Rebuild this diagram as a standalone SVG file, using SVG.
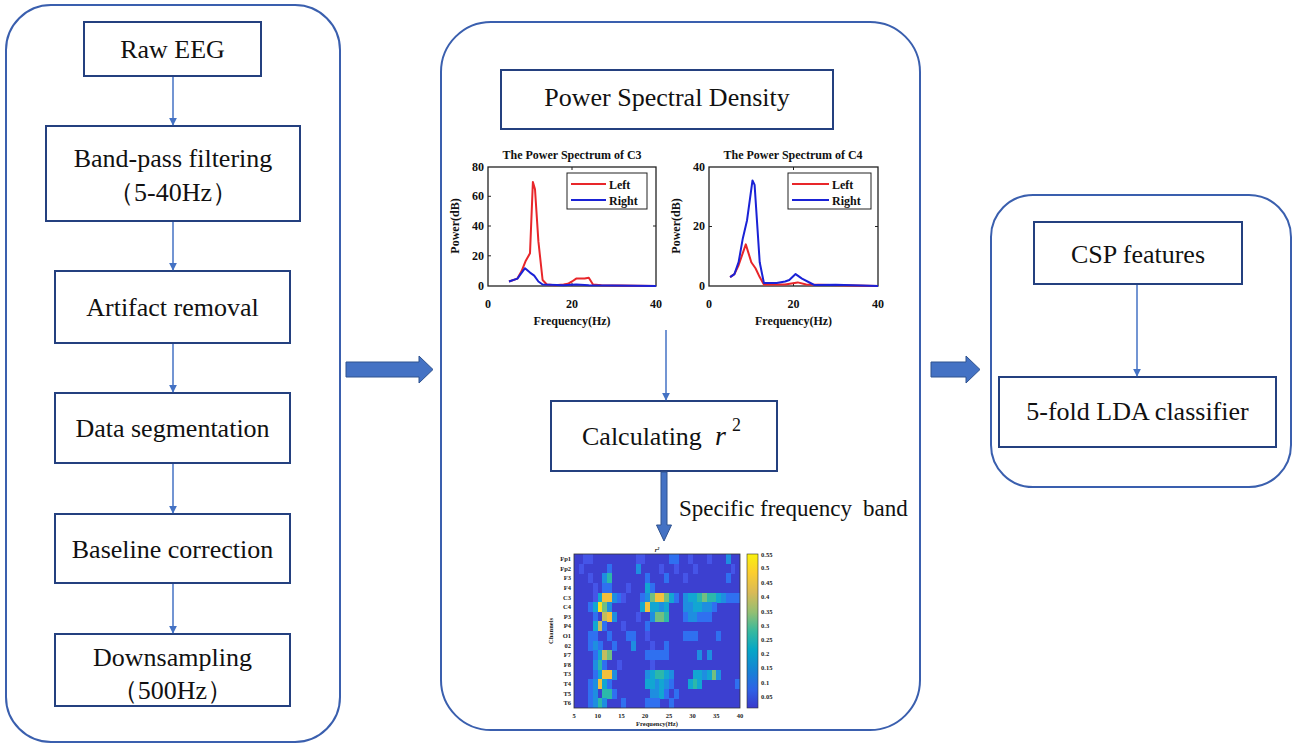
<svg xmlns="http://www.w3.org/2000/svg" width="1300" height="752" viewBox="0 0 1300 752">
<style>
.panel{fill:#fff;stroke:#3a5fae;stroke-width:2}
.box{fill:#fff;stroke:#24407f;stroke-width:2}
.t{font-family:"Liberation Serif","DejaVu Serif",serif;font-size:26px;fill:#111}
.c{text-anchor:middle}
.pt{font-family:"Liberation Serif","DejaVu Serif",serif;font-weight:bold;font-size:12px;fill:#111}
.ht{font-family:"Liberation Serif","DejaVu Serif",serif;font-weight:bold;font-size:6.5px;fill:#222}
.ax{fill:#fff;stroke:#222;stroke-width:1.3}
.red{fill:none;stroke:#e8262a;stroke-width:2;stroke-linejoin:round}
.blue{fill:none;stroke:#1a22d6;stroke-width:2;stroke-linejoin:round}
.con{stroke:#4472c4;stroke-width:1.5;fill:none}
.big{fill:#4472c4;stroke:#2f528f;stroke-width:1}
.h1{fill:#4555e8}.h2{fill:#2f70f0}.h3{fill:#1e8ee0}.h4{fill:#12a6d2}.h5{fill:#2cb8aa}.h6{fill:#72bf80}.h7{fill:#c2bd5e}.h8{fill:#f2c03c}.h9{fill:#f9e020}
</style>
<defs>
<marker id="ah" viewBox="0 0 10 10" refX="9" refY="5" markerWidth="8" markerHeight="8" markerUnits="userSpaceOnUse" orient="auto">
<path d="M0,0 L10,5 L0,10 z" fill="#4472c4"/>
</marker>
<linearGradient id="cb" x1="0" y1="0" x2="0" y2="1">
<stop offset="0" stop-color="#f9f10e"/>
<stop offset="0.12" stop-color="#fcce2e"/>
<stop offset="0.25" stop-color="#d9ba56"/>
<stop offset="0.38" stop-color="#92bf73"/>
<stop offset="0.5" stop-color="#38b99e"/>
<stop offset="0.62" stop-color="#06a7c6"/>
<stop offset="0.75" stop-color="#1485d4"/>
<stop offset="0.88" stop-color="#2f62e6"/>
<stop offset="1" stop-color="#3b3acb"/>
</linearGradient>
</defs>

<g id="panel-left"><rect class="panel" x="6" y="5" width="334" height="737" rx="45"/></g>
<g id="panel-middle"><rect class="panel" x="441" y="22" width="479" height="708" rx="50"/></g>
<g id="panel-right"><rect class="panel" x="991" y="195" width="300" height="292" rx="42"/></g>

<g id="raw-eeg"><rect class="box" x="84" y="22" width="177" height="54"/><text class="t c" x="172.5" y="58">Raw EEG</text></g>
<g id="band-pass"><rect class="box" x="46" y="126" width="254" height="95"/><text class="t c" x="173" y="167">Band-pass filtering</text><text class="t c" x="173" y="201">（5-40Hz）</text></g>
<g id="artifact"><rect class="box" x="55" y="271" width="235" height="72"/><text class="t c" x="172.5" y="316">Artifact removal</text></g>
<g id="segmentation"><rect class="box" x="55" y="393" width="235" height="70"/><text class="t c" x="172.5" y="437">Data segmentation</text></g>
<g id="baseline"><rect class="box" x="55" y="514" width="235" height="69"/><text class="t c" x="172.5" y="558">Baseline correction</text></g>
<g id="downsampling"><rect class="box" x="55" y="634" width="235" height="72"/><text class="t c" x="172.5" y="666">Downsampling</text><text class="t c" x="172.5" y="699">（500Hz）</text></g>

<g id="psd"><rect class="box" x="501" y="70" width="332" height="59"/><text class="t c" x="667" y="106">Power Spectral Density</text></g>

<g id="plot-c3">
<text class="pt c" x="572" y="159">The Power Spectrum of C3</text>
<rect class="ax" x="488" y="167" width="168" height="119"/>
<path d="M488,196.3h3M488,226h3M488,255.8h3M572,286v-3M656,226h-3M572,167v3" stroke="#222" stroke-width="1"/>
<g class="pt" text-anchor="end"><text x="484" y="171">80</text><text x="484" y="200">60</text><text x="484" y="230">40</text><text x="484" y="260">20</text><text x="484" y="290">0</text></g>
<g class="pt c"><text x="488" y="308">0</text><text x="572" y="308">20</text><text x="656" y="308">40</text><text x="572" y="325">Frequency(Hz)</text></g>
<text class="pt c" transform="translate(459,226) rotate(-90)">Power(dB)</text>
<polyline class="red" points="509,281.5 517.4,278.6 521.6,271.1 525.8,260.7 530,253.3 532.9,181.9 535,189.3 538.4,241.4 542.6,280 546.8,284.5 555.2,285.3 563.6,284.5 567.8,283.8 572,281.5 576.2,278.6 584.6,278.6 588.8,277.8 593,284.5 601.4,285.3 656,286"/>
<polyline class="blue" points="509,281.5 517.4,278.6 525,268.2 530,272.6 534.2,275.6 538.4,281.5 542.6,284.5 563.6,285.3 576.2,284.5 588.8,285.3 656,286"/>
<rect x="567" y="173" width="80" height="36" fill="#fff" stroke="#222" stroke-width="1"/>
<line x1="571" y1="184" x2="606" y2="184" stroke="#e8262a" stroke-width="2"/>
<line x1="571" y1="200" x2="606" y2="200" stroke="#1a22d6" stroke-width="2"/>
<text class="pt" x="609" y="189">Left</text><text class="pt" x="609" y="205">Right</text>
</g>

<g id="plot-c4">
<text class="pt c" x="793" y="159">The Power Spectrum of C4</text>
<rect class="ax" x="709" y="167" width="169" height="119"/>
<path d="M709,226.5h3M793.5,286v-3M878,226.5h-3M793.5,167v3" stroke="#222" stroke-width="1"/>
<g class="pt" text-anchor="end"><text x="705" y="171">40</text><text x="705" y="230">20</text><text x="705" y="290">0</text></g>
<g class="pt c"><text x="709" y="308">0</text><text x="793.5" y="308">20</text><text x="878" y="308">40</text><text x="793.5" y="325">Frequency(Hz)</text></g>
<text class="pt c" transform="translate(680,226) rotate(-90)">Power(dB)</text>
<polyline class="red" points="730.1,277.1 734.4,274.1 738.6,265.2 745.8,244.4 751.3,262.2 755.5,268.2 759.7,277.1 763.9,284.5 785.1,284.5 797.7,282.4 806.2,284.5 878,286"/>
<polyline class="blue" points="730.1,277.1 734.4,274.1 738.6,262.2 742.8,238.4 747,220.5 752.5,180.4 754.6,184.9 759.7,262.2 763.9,283 776.6,283 785.1,281.5 789.3,280 795.6,274.1 802,278.6 810.4,283 814.6,285.1 835.8,284.8 878,286"/>
<rect x="788" y="173" width="83" height="36" fill="#fff" stroke="#222" stroke-width="1"/>
<line x1="792" y1="184" x2="829" y2="184" stroke="#e8262a" stroke-width="2"/>
<line x1="792" y1="200" x2="829" y2="200" stroke="#1a22d6" stroke-width="2"/>
<text class="pt" x="832" y="189">Left</text><text class="pt" x="832" y="205">Right</text>
</g>

<g id="calculating"><rect class="box" x="551" y="401" width="226" height="70"/><text class="t" x="582" y="445">Calculating</text><text class="t" x="715" y="445" font-style="italic" style="font-size:28px">r</text><text class="t" x="732" y="431" style="font-size:18px">2</text></g>

<g id="band-label"><text class="t" y="516" style="font-size:23px"><tspan x="679">Specific</tspan><tspan x="760">frequency</tspan><tspan x="863">band</tspan></text></g>

<g id="heatmap">
<rect x="574" y="554" width="166" height="154" fill="#3c40d0"/>
<g transform="translate(574,554) scale(4.743,9.625)" shape-rendering="crispEdges">
<rect class="h1" x="2" y="0" width="1.05" height="1.05"/><rect class="h1" x="3" y="0" width="1.05" height="1.05"/><rect class="h1" x="13" y="0" width="1.05" height="1.05"/><rect class="h1" x="14" y="0" width="1.05" height="1.05"/><rect class="h2" x="20" y="0" width="1.05" height="1.05"/><rect class="h2" x="21" y="0" width="1.05" height="1.05"/><rect class="h1" x="24" y="0" width="1.05" height="1.05"/><rect class="h1" x="28" y="0" width="1.05" height="1.05"/><rect class="h3" x="32" y="0" width="1.05" height="1.05"/>
<rect class="h1" x="1" y="1" width="1.05" height="1.05"/><rect class="h2" x="7" y="1" width="1.05" height="1.05"/><rect class="h3" x="13" y="1" width="1.05" height="1.05"/><rect class="h1" x="18" y="1" width="1.05" height="1.05"/><rect class="h1" x="21" y="1" width="1.05" height="1.05"/><rect class="h1" x="25" y="1" width="1.05" height="1.05"/><rect class="h1" x="33" y="1" width="1.05" height="1.05"/>
<rect class="h1" x="3" y="2" width="1.05" height="1.05"/><rect class="h3" x="6" y="2" width="1.05" height="1.05"/><rect class="h5" x="7" y="2" width="1.05" height="1.05"/><rect class="h2" x="15" y="2" width="1.05" height="1.05"/><rect class="h2" x="19" y="2" width="1.05" height="1.05"/><rect class="h1" x="23" y="2" width="1.05" height="1.05"/><rect class="h2" x="32" y="2" width="1.05" height="1.05"/>
<rect class="h1" x="4" y="3" width="1.05" height="1.05"/><rect class="h2" x="6" y="3" width="1.05" height="1.05"/><rect class="h2" x="7" y="3" width="1.05" height="1.05"/><rect class="h1" x="11" y="3" width="1.05" height="1.05"/><rect class="h4" x="15" y="3" width="1.05" height="1.05"/><rect class="h2" x="16" y="3" width="1.05" height="1.05"/>
<rect class="h1" x="4" y="4" width="1.05" height="1.05"/><rect class="h4" x="5" y="4" width="1.05" height="1.05"/><rect class="h8" x="6" y="4" width="1.05" height="1.05"/><rect class="h8" x="7" y="4" width="1.05" height="1.05"/><rect class="h3" x="8" y="4" width="1.05" height="1.05"/><rect class="h2" x="9" y="4" width="1.05" height="1.05"/><rect class="h1" x="10" y="4" width="1.05" height="1.05"/><rect class="h2" x="14" y="4" width="1.05" height="1.05"/><rect class="h3" x="15" y="4" width="1.05" height="1.05"/><rect class="h6" x="16" y="4" width="1.05" height="1.05"/><rect class="h8" x="17" y="4" width="1.05" height="1.05"/><rect class="h8" x="18" y="4" width="1.05" height="1.05"/><rect class="h6" x="19" y="4" width="1.05" height="1.05"/><rect class="h4" x="20" y="4" width="1.05" height="1.05"/><rect class="h2" x="21" y="4" width="1.05" height="1.05"/><rect class="h3" x="23" y="4" width="1.05" height="1.05"/><rect class="h4" x="24" y="4" width="1.05" height="1.05"/><rect class="h4" x="25" y="4" width="1.05" height="1.05"/><rect class="h5" x="26" y="4" width="1.05" height="1.05"/><rect class="h6" x="27" y="4" width="1.05" height="1.05"/><rect class="h5" x="28" y="4" width="1.05" height="1.05"/><rect class="h5" x="29" y="4" width="1.05" height="1.05"/><rect class="h4" x="30" y="4" width="1.05" height="1.05"/><rect class="h3" x="31" y="4" width="1.05" height="1.05"/><rect class="h2" x="32" y="4" width="1.05" height="1.05"/><rect class="h2" x="33" y="4" width="1.05" height="1.05"/><rect class="h2" x="34" y="4" width="1.05" height="1.05"/>
<rect class="h2" x="3" y="5" width="1.05" height="1.05"/><rect class="h4" x="4" y="5" width="1.05" height="1.05"/><rect class="h9" x="5" y="5" width="1.05" height="1.05"/><rect class="h6" x="6" y="5" width="1.05" height="1.05"/><rect class="h3" x="7" y="5" width="1.05" height="1.05"/><rect class="h4" x="14" y="5" width="1.05" height="1.05"/><rect class="h8" x="15" y="5" width="1.05" height="1.05"/><rect class="h4" x="16" y="5" width="1.05" height="1.05"/><rect class="h4" x="17" y="5" width="1.05" height="1.05"/><rect class="h3" x="18" y="5" width="1.05" height="1.05"/><rect class="h4" x="19" y="5" width="1.05" height="1.05"/><rect class="h3" x="23" y="5" width="1.05" height="1.05"/><rect class="h3" x="24" y="5" width="1.05" height="1.05"/><rect class="h4" x="25" y="5" width="1.05" height="1.05"/><rect class="h4" x="26" y="5" width="1.05" height="1.05"/><rect class="h3" x="27" y="5" width="1.05" height="1.05"/><rect class="h3" x="28" y="5" width="1.05" height="1.05"/><rect class="h2" x="29" y="5" width="1.05" height="1.05"/>
<rect class="h2" x="4" y="6" width="1.05" height="1.05"/><rect class="h7" x="6" y="6" width="1.05" height="1.05"/><rect class="h8" x="7" y="6" width="1.05" height="1.05"/><rect class="h3" x="8" y="6" width="1.05" height="1.05"/><rect class="h1" x="13" y="6" width="1.05" height="1.05"/><rect class="h3" x="16" y="6" width="1.05" height="1.05"/><rect class="h6" x="17" y="6" width="1.05" height="1.05"/><rect class="h6" x="18" y="6" width="1.05" height="1.05"/><rect class="h5" x="19" y="6" width="1.05" height="1.05"/><rect class="h2" x="23" y="6" width="1.05" height="1.05"/><rect class="h3" x="24" y="6" width="1.05" height="1.05"/><rect class="h3" x="25" y="6" width="1.05" height="1.05"/><rect class="h2" x="26" y="6" width="1.05" height="1.05"/><rect class="h2" x="27" y="6" width="1.05" height="1.05"/><rect class="h2" x="28" y="6" width="1.05" height="1.05"/>
<rect class="h4" x="4" y="7" width="1.05" height="1.05"/><rect class="h7" x="5" y="7" width="1.05" height="1.05"/><rect class="h2" x="6" y="7" width="1.05" height="1.05"/><rect class="h1" x="10" y="7" width="1.05" height="1.05"/><rect class="h2" x="15" y="7" width="1.05" height="1.05"/>
<rect class="h2" x="3" y="8" width="1.05" height="1.05"/><rect class="h2" x="4" y="8" width="1.05" height="1.05"/><rect class="h2" x="7" y="8" width="1.05" height="1.05"/><rect class="h2" x="11" y="8" width="1.05" height="1.05"/><rect class="h2" x="12" y="8" width="1.05" height="1.05"/><rect class="h1" x="15" y="8" width="1.05" height="1.05"/><rect class="h2" x="23" y="8" width="1.05" height="1.05"/><rect class="h2" x="24" y="8" width="1.05" height="1.05"/><rect class="h2" x="25" y="8" width="1.05" height="1.05"/><rect class="h2" x="30" y="8" width="1.05" height="1.05"/>
<rect class="h2" x="3" y="9" width="1.05" height="1.05"/><rect class="h3" x="4" y="9" width="1.05" height="1.05"/><rect class="h2" x="5" y="9" width="1.05" height="1.05"/><rect class="h2" x="8" y="9" width="1.05" height="1.05"/><rect class="h3" x="12" y="9" width="1.05" height="1.05"/><rect class="h1" x="16" y="9" width="1.05" height="1.05"/><rect class="h2" x="19" y="9" width="1.05" height="1.05"/>
<rect class="h2" x="4" y="10" width="1.05" height="1.05"/><rect class="h4" x="5" y="10" width="1.05" height="1.05"/><rect class="h7" x="6" y="10" width="1.05" height="1.05"/><rect class="h6" x="7" y="10" width="1.05" height="1.05"/><rect class="h2" x="15" y="10" width="1.05" height="1.05"/><rect class="h2" x="16" y="10" width="1.05" height="1.05"/><rect class="h2" x="17" y="10" width="1.05" height="1.05"/><rect class="h2" x="18" y="10" width="1.05" height="1.05"/><rect class="h2" x="19" y="10" width="1.05" height="1.05"/><rect class="h3" x="26" y="10" width="1.05" height="1.05"/><rect class="h3" x="28" y="10" width="1.05" height="1.05"/>
<rect class="h3" x="4" y="11" width="1.05" height="1.05"/><rect class="h5" x="5" y="11" width="1.05" height="1.05"/><rect class="h2" x="6" y="11" width="1.05" height="1.05"/><rect class="h1" x="9" y="11" width="1.05" height="1.05"/><rect class="h1" x="16" y="11" width="1.05" height="1.05"/>
<rect class="h2" x="4" y="12" width="1.05" height="1.05"/><rect class="h4" x="5" y="12" width="1.05" height="1.05"/><rect class="h8" x="6" y="12" width="1.05" height="1.05"/><rect class="h8" x="7" y="12" width="1.05" height="1.05"/><rect class="h3" x="8" y="12" width="1.05" height="1.05"/><rect class="h3" x="15" y="12" width="1.05" height="1.05"/><rect class="h4" x="16" y="12" width="1.05" height="1.05"/><rect class="h5" x="17" y="12" width="1.05" height="1.05"/><rect class="h5" x="18" y="12" width="1.05" height="1.05"/><rect class="h4" x="19" y="12" width="1.05" height="1.05"/><rect class="h3" x="20" y="12" width="1.05" height="1.05"/><rect class="h4" x="25" y="12" width="1.05" height="1.05"/><rect class="h4" x="26" y="12" width="1.05" height="1.05"/><rect class="h3" x="27" y="12" width="1.05" height="1.05"/><rect class="h4" x="28" y="12" width="1.05" height="1.05"/><rect class="h6" x="29" y="12" width="1.05" height="1.05"/><rect class="h3" x="30" y="12" width="1.05" height="1.05"/>
<rect class="h2" x="3" y="13" width="1.05" height="1.05"/><rect class="h3" x="4" y="13" width="1.05" height="1.05"/><rect class="h8" x="5" y="13" width="1.05" height="1.05"/><rect class="h4" x="6" y="13" width="1.05" height="1.05"/><rect class="h2" x="7" y="13" width="1.05" height="1.05"/><rect class="h4" x="15" y="13" width="1.05" height="1.05"/><rect class="h4" x="16" y="13" width="1.05" height="1.05"/><rect class="h3" x="17" y="13" width="1.05" height="1.05"/><rect class="h4" x="18" y="13" width="1.05" height="1.05"/><rect class="h3" x="19" y="13" width="1.05" height="1.05"/><rect class="h2" x="20" y="13" width="1.05" height="1.05"/><rect class="h4" x="24" y="13" width="1.05" height="1.05"/><rect class="h5" x="25" y="13" width="1.05" height="1.05"/><rect class="h4" x="26" y="13" width="1.05" height="1.05"/><rect class="h2" x="34" y="13" width="1.05" height="1.05"/>
<rect class="h2" x="3" y="14" width="1.05" height="1.05"/><rect class="h3" x="4" y="14" width="1.05" height="1.05"/><rect class="h5" x="6" y="14" width="1.05" height="1.05"/><rect class="h5" x="7" y="14" width="1.05" height="1.05"/><rect class="h2" x="8" y="14" width="1.05" height="1.05"/><rect class="h3" x="16" y="14" width="1.05" height="1.05"/><rect class="h3" x="17" y="14" width="1.05" height="1.05"/><rect class="h4" x="18" y="14" width="1.05" height="1.05"/><rect class="h2" x="19" y="14" width="1.05" height="1.05"/><rect class="h2" x="21" y="14" width="1.05" height="1.05"/>
<rect class="h2" x="3" y="15" width="1.05" height="1.05"/><rect class="h3" x="4" y="15" width="1.05" height="1.05"/><rect class="h5" x="5" y="15" width="1.05" height="1.05"/><rect class="h3" x="6" y="15" width="1.05" height="1.05"/><rect class="h2" x="10" y="15" width="1.05" height="1.05"/><rect class="h2" x="15" y="15" width="1.05" height="1.05"/><rect class="h2" x="16" y="15" width="1.05" height="1.05"/><rect class="h2" x="17" y="15" width="1.05" height="1.05"/><rect class="h2" x="20" y="15" width="1.05" height="1.05"/>
</g>
<rect x="574" y="554" width="166" height="154" fill="none" stroke="#333" stroke-width="0.8"/>
<rect x="747" y="554" width="11" height="154" fill="url(#cb)" stroke="#333" stroke-width="0.6"/>
<g class="ht"><text x="761" y="557">0.55</text><text x="761" y="570">0.5</text><text x="761" y="585">0.45</text><text x="761" y="599">0.4</text><text x="761" y="614">0.35</text><text x="761" y="628">0.3</text><text x="761" y="642">0.25</text><text x="761" y="656">0.2</text><text x="761" y="670">0.15</text><text x="761" y="685">0.1</text><text x="761" y="699">0.05</text></g>
<g class="ht" text-anchor="end"><text x="571" y="561">Fp1</text><text x="571" y="571">Fp2</text><text x="571" y="580">F3</text><text x="571" y="590">F4</text><text x="571" y="600">C3</text><text x="571" y="609">C4</text><text x="571" y="619">P3</text><text x="571" y="628">P4</text><text x="571" y="638">O1</text><text x="571" y="648">02</text><text x="571" y="657">F7</text><text x="571" y="667">F8</text><text x="571" y="676">T3</text><text x="571" y="686">T4</text><text x="571" y="696">T5</text><text x="571" y="705">T6</text></g>
<g class="ht c"><text x="574" y="718">5</text><text x="597.7" y="718">10</text><text x="621.4" y="718">15</text><text x="645.1" y="718">20</text><text x="668.9" y="718">25</text><text x="692.6" y="718">30</text><text x="716.3" y="718">35</text><text x="740" y="718">40</text><text x="657" y="726">Frequency(Hz)</text><text x="657" y="552" font-style="italic">r²</text></g>
<text class="ht c" transform="translate(553,631) rotate(-90)">Channels</text>
</g>

<g id="csp"><rect class="box" x="1034" y="222" width="208" height="62"/><text class="t c" x="1138" y="263">CSP features</text></g>
<g id="lda"><rect class="box" x="999" y="377" width="277" height="70"/><text class="t c" x="1137.5" y="420">5-fold LDA classifier</text></g>

<g id="connectors">
<line class="con" x1="173" y1="77" x2="173" y2="125" marker-end="url(#ah)"/>
<line class="con" x1="173" y1="222" x2="173" y2="270" marker-end="url(#ah)"/>
<line class="con" x1="173" y1="344" x2="173" y2="392" marker-end="url(#ah)"/>
<line class="con" x1="173" y1="464" x2="173" y2="513" marker-end="url(#ah)"/>
<line class="con" x1="173" y1="584" x2="173" y2="633" marker-end="url(#ah)"/>
<line class="con" x1="666" y1="330" x2="666" y2="400" marker-end="url(#ah)"/>
<line class="con" x1="1137" y1="285" x2="1137" y2="376" marker-end="url(#ah)"/>
<path class="big" d="M661,472 H667 V525 H671.5 L664,541 L656.5,525 H661 Z"/>
<path class="big" d="M346,362 H419 V356 L433,369.5 L419,383 V377 H346 Z"/>
<path class="big" d="M931,362 H966 V356 L980,369.5 L966,383 V377 H931 Z"/>
</g>
</svg>
